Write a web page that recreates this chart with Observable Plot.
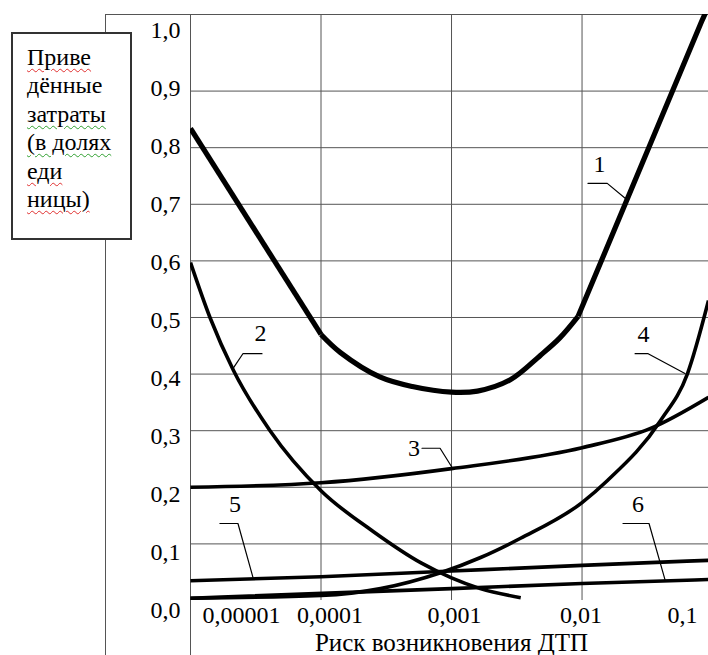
<!DOCTYPE html>
<html>
<head>
<meta charset="utf-8">
<script src="https://cdn.jsdelivr.net/npm/d3@7"></script>
<script src="https://cdn.jsdelivr.net/npm/@observablehq/plot@0.6"></script>
<style>
  html, body { margin: 0; padding: 0; background: #fff; }
  #wrap { position: relative; width: 708px; height: 655px; overflow: hidden; }
  #wrap svg { position: absolute; left: 0; top: 0; }
  .box {
    position: absolute; left: 11px; top: 32px; width: 121px; height: 208px;
    box-sizing: border-box; border: 2px solid #333; background: #fff;
    font-family: "Liberation Serif", "Times New Roman", Tinos, "DejaVu Serif", "Noto Serif", FreeSerif, serif; font-size: 24px;
    line-height: 28.4px; padding: 9px 0 0 14px; color: #000; white-space: nowrap;
  }
  .r { text-decoration: underline wavy #e03030; text-decoration-thickness: 1px; text-underline-offset: 3px; }
  .g { text-decoration: underline wavy #30a030; text-decoration-thickness: 1px; text-underline-offset: 3px; }
</style>
</head>
<body>
<div id="wrap"></div>
<script>
// ---- data ----
const yAxisTitleLines = ["Приве", "дённые", "затраты", "(в долях", "еди", "ницы)"];
const xAxisTitle = "Риск возникновения ДТП";

const xTicks = [0.00001, 0.0001, 0.001, 0.01, 0.1];
const xTickLabels = ["0,00001", "0,0001", "0,001", "0,01", "0,1"];
const yTicks = [0, 0.1, 0.2, 0.3, 0.4, 0.5, 0.6, 0.7, 0.8, 0.9, 1.0];
const yTickLabels = ["0,0", "0,1", "0,2", "0,3", "0,4", "0,5", "0,6", "0,7", "0,8", "0,9", "1,0"];

// curve 1 (total reduced costs): straight left part, curved middle, straight right part
const curve1LeftRisk = [0.00001, 0.0001];
const curve1LeftCost = [0.834, 0.470];
const curve1MidRisk = [0.0001, 0.000141, 0.000282, 0.000501, 0.001, 0.00158, 0.00282, 0.00479, 0.00676, 0.00933];
const curve1MidCost = [0.470, 0.438, 0.395, 0.378, 0.368, 0.370, 0.390, 0.433, 0.464, 0.502];
const curve1RightRisk = [0.00933, 0.0832, 0.0931];
const curve1RightCost = [0.502, 1.025, 1.050];
// curve 2
const curve2Risk = [0.00001, 0.0000141, 0.0000214, 0.0000407, 0.0001, 0.000251, 0.000589, 0.001, 0.00166, 0.00339];
const curve2Cost = [0.597, 0.500, 0.406, 0.300, 0.194, 0.122, 0.066, 0.040, 0.021, 0.005];
// curve 3
const curve3Risk = [0.00001, 0.0001, 0.001, 0.01, 0.0335, 0.0931];
const curve3Cost = [0.200, 0.208, 0.233, 0.270, 0.304, 0.359];
// curve 4
const curve4Risk = [0.00001, 0.0001, 0.000286, 0.000824, 0.00167, 0.00338, 0.01, 0.01567, 0.040, 0.0643, 0.0931];
const curve4Cost = [0.004, 0.009, 0.021, 0.049, 0.076, 0.110, 0.173, 0.212, 0.318, 0.401, 0.530];
// curve 5
const curve5Risk = [0.00001, 0.0001, 0.001, 0.01, 0.0931];
const curve5Cost = [0.035, 0.042, 0.052, 0.062, 0.071];
// curve 6
const curve6Risk = [0.00001, 0.001, 0.01, 0.0931];
const curve6Cost = [0.004, 0.021, 0.030, 0.037];

// curve number labels and their leader lines
const labelText = ["1", "2", "3", "4", "5", "6"];
const labelRisk = [0.01361, 0.0000344, 0.000516, 0.0296, 0.0000219, 0.0268];
const labelCost = [0.770, 0.472, 0.269, 0.470, 0.170, 0.170];
const leaderId = [1, 1, 1, 2, 2, 2, 3, 3, 3, 4, 4, 4, 5, 5, 5, 6, 6, 6];
const leaderRisk = [0.0111, 0.0156, 0.0221, 0.0000353, 0.0000252, 0.0000212, 0.000594, 0.000817, 0.00101, 0.0255, 0.0321, 0.0615, 0.0000168, 0.0000231, 0.0000301, 0.0206, 0.0326, 0.0432];
const leaderCost = [0.737, 0.737, 0.708, 0.436, 0.436, 0.410, 0.269, 0.269, 0.235, 0.436, 0.436, 0.401, 0.136, 0.136, 0.041, 0.136, 0.136, 0.037];

const xDomain = [0.00001, 0.0931];
const yDomain = [0, 1.0353];

// ---- build tables ----
const zip = (xs, ys) => xs.map((x, i) => ({risk: x, cost: ys[i]}));
const c1Left = zip(curve1LeftRisk, curve1LeftCost);
const c1Mid = zip(curve1MidRisk, curve1MidCost);
const c1Right = zip(curve1RightRisk, curve1RightCost);
const thin = [
  zip(curve2Risk, curve2Cost),
  zip(curve3Risk, curve3Cost),
  zip(curve4Risk, curve4Cost),
  zip(curve5Risk, curve5Cost),
  zip(curve6Risk, curve6Cost)
];
const labels = labelText.map((t, i) => ({t, risk: labelRisk[i], cost: labelCost[i]}));
const leaders = leaderRisk.map((r, i) => ({id: leaderId[i], risk: r, cost: leaderCost[i]}));
const yTickData = yTicks.map((v, i) => ({v, label: yTickLabels[i]}));

const gridColor = "#555";
const font = '"Liberation Serif", "Times New Roman", Tinos, "DejaVu Serif", "Noto Serif", FreeSerif, serif';
const fs = 24;
const xTickDx = [12, 9, 3, -1, -30];
const xTickAnchor = ["start", "middle", "middle", "middle", "middle"];

const thick = {x: "risk", y: "cost", stroke: "#000", strokeWidth: 5.2, strokeLinecap: "butt", clip: true};

const chart = Plot.plot({
  width: 708,
  height: 655,
  marginLeft: 190,
  marginRight: 0,
  marginTop: 14,
  marginBottom: 55,
  style: {fontFamily: font, fontSize: fs + "px", background: "transparent", color: "#000"},
  x: {type: "log", domain: xDomain, axis: null},
  y: {domain: yDomain, axis: null},
  marks: [
    // grid
    Plot.ruleY(yTicks.filter(v => v > 0 && v < 1), {stroke: gridColor, strokeWidth: 1}),
    Plot.ruleX(xTicks.filter(v => v > xDomain[0] && v < xDomain[1]), {stroke: gridColor, strokeWidth: 1}),
    // y axis line, extending to bottom edge
    Plot.ruleX([xDomain[0]], {stroke: gridColor, strokeWidth: 1, insetBottom: -55}),
    // outer frame (left and top)
    Plot.ruleX([xDomain[0]], {stroke: gridColor, strokeWidth: 1, dx: -85, insetBottom: -55}),
    Plot.ruleY([yDomain[1]], {stroke: gridColor, strokeWidth: 1, insetLeft: -85}),
    // curves
    ...thin.map(data => Plot.line(data, {x: "risk", y: "cost", stroke: "#000", strokeWidth: 3.6, curve: "monotone-x", strokeLinecap: "butt", clip: true})),
    Plot.line(c1Left, {...thick, curve: "linear"}),
    Plot.line(c1Mid, {...thick, curve: "catmull-rom"}),
    Plot.line(c1Right, {...thick, curve: "linear"}),
    // leader lines
    Plot.line(leaders, {x: "risk", y: "cost", z: "id", stroke: "#000", strokeWidth: 1.2, curve: "linear"}),
    // curve numbers
    Plot.text(labels, {x: "risk", y: "cost", text: "t", fontSize: fs, lineAnchor: "middle", fill: "#000"}),
    // y tick labels (text column slightly drifts from gridlines as in reference)
    Plot.text(yTickData, {frameAnchor: "left", y: d => d.v * 1.0247 - 0.01767, text: "label", textAnchor: "end", dx: -10, fontSize: fs, lineAnchor: "middle", fill: "#000"}),
    // x tick labels
    ...xTicks.map((t, i) => Plot.text([t], {x: d => d, frameAnchor: "bottom", text: () => xTickLabels[i], textAnchor: xTickAnchor[i], dx: xTickDx[i], dy: 15, fontSize: fs, lineAnchor: "middle", fill: "#000"})),
    // x axis title
    Plot.text([xAxisTitle], {frameAnchor: "bottom", text: d => d, dy: 42, dx: 2, fontSize: 25, lineAnchor: "middle", fill: "#000"})
  ]
});

const wrap = document.getElementById("wrap");
wrap.appendChild(chart);

// y-axis title box
const box = document.createElement("div");
box.className = "box";
const underline = ["r", "", "g", "g", "r", "r"];
box.innerHTML = yAxisTitleLines.map((l, i) => underline[i] ? `<div><span class="${underline[i]}">${l}</span></div>` : `<div>${l}</div>`).join("");
wrap.appendChild(box);
</script>
</body>
</html>
